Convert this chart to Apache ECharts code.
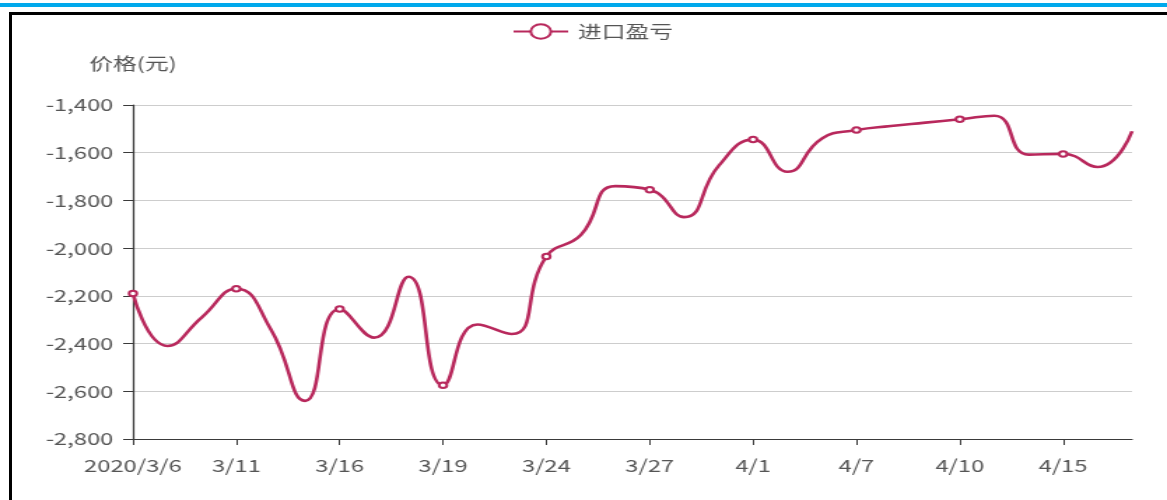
<!DOCTYPE html>
<html>
<head>
<meta charset="utf-8">
<script src="https://cdn.jsdelivr.net/npm/echarts@6/dist/echarts.min.js"></script>
<style>
html,body{margin:0;padding:0;background:#fff;}
#wrap{position:relative;width:1167px;height:500px;overflow:hidden;}
#topbar{position:absolute;left:0;top:3px;width:1167px;height:4px;background:#00a9ec;}
#frame{position:absolute;left:9px;top:12px;width:1170px;height:500px;border-left:3px solid #000;border-top:3px solid #000;}
#chart{position:absolute;left:0;top:0;width:834px;height:500px;transform:scaleX(1.3993);transform-origin:0 0;}
</style>
</head>
<body>
<div id="wrap">
<div id="topbar"></div>
<div id="frame"></div>
<div id="chart"></div>
</div>
<script>
const categories = ['2020/3/6','3/9','3/10','3/11','3/12','3/13','3/16','3/17','3/18','3/19',
  '3/20','3/23','3/24','3/25','3/26','3/27','3/30','3/31','4/1','4/2',
  '4/3','4/7','4/8','4/9','4/10','4/13','4/14','4/15','4/16','4/17'];
const importProfit = [-2190,-2410,-2290,-2170,-2340,-2640,-2255,-2375,-2120,-2575,
  -2320,-2360,-2035,-1945,-1740,-1755,-1870,-1655,-1545,-1680,
  -1540,-1505,-1488,-1474,-1460,-1445,-1608,-1605,-1660,-1510];
const seriesName = '进口盈亏';
const yAxisName = '价格(元)';
const yMin = -2800, yMax = -1400, yStep = 200;

const chart = echarts.init(document.getElementById('chart'), null, {renderer:'canvas'});
const font = '"Microsoft YaHei","Noto Sans CJK SC","Noto Sans",sans-serif';
const lineColor = '#b8285c';
const textColor = '#555555';
chart.setOption({
  animation:false,
  backgroundColor:'transparent',
  textStyle:{fontFamily:font},
  legend:{
    data:[seriesName], top:18, left:361,
    itemWidth:39, itemHeight:18, itemGap:10,
    textStyle:{fontSize:17,color:textColor,fontFamily:font,padding:[0,0,0,2]}
  },
  grid:{left:95,right:25,top:105,bottom:61},
  xAxis:{
    type:'category', data:categories, boundaryGap:false,
    axisLine:{lineStyle:{color:'#3a3a3a',width:1.2}},
    axisTick:{interval:2,length:6,lineStyle:{color:'#3a3a3a'}},
    axisLabel:{interval:2,fontSize:17,color:textColor,margin:18,fontFamily:font},
    splitLine:{show:false}
  },
  yAxis:{
    type:'value', min:yMin, max:yMax, interval:yStep,
    name:yAxisName, nameLocation:'end', nameGap:33,
    nameTextStyle:{fontSize:17,color:textColor,fontFamily:font,align:'center'},
    axisLine:{show:true,lineStyle:{color:'#3a3a3a',width:1.2}},
    axisTick:{show:true,length:7,lineStyle:{color:'#3a3a3a'}},
    axisLabel:{fontSize:17,color:textColor,margin:14,fontFamily:font,
      formatter:v=>v.toLocaleString('en-US')},
    splitLine:{lineStyle:{color:'#cdcdcd',width:1}}
  },
  series:[{
    name:seriesName, type:'line', data:importProfit, smooth:true,
    symbol:'emptyCircle',
    symbolSize:(v,p)=> (p.dataIndex % 3 === 0 ? 5.5 : 0),
    showAllSymbol:true,
    lineStyle:{color:lineColor,width:2.6},
    itemStyle:{color:lineColor,borderColor:lineColor,borderWidth:1}
  }]
});
</script>
</body>
</html>
